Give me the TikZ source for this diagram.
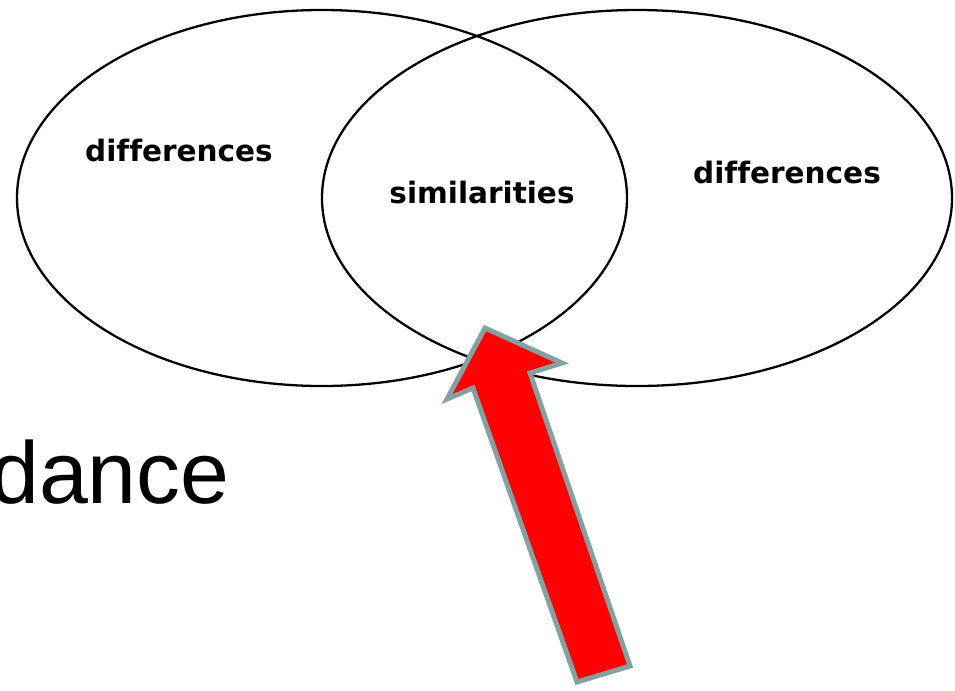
\documentclass[tikz,border=0pt]{standalone}
\usepackage{fontspec}
\newfontfamily\vennfont[Ligatures=CommonOff]{DejaVu Sans}
\newfontfamily\slidefont{Liberation Sans}
\definecolor{arrowred}{RGB}{255,0,0}
\definecolor{arrowgray}{RGB}{133,160,160}
\tikzstyle{venntext}=[font=\vennfont\bfseries\fontsize{16.8pt}{20pt}\selectfont]
\tikzstyle{slidetext}=[font=\slidefont\fontsize{50pt}{58pt}\selectfont]

\begin{document}
\begin{tikzpicture}[x=0.02cm,y=-0.02cm]
		            \useasboundingbox (0,0) rectangle (955,690);

		            % Elipsy
		            \draw[line width=1.3pt] (322,198) ellipse [x radius=305, y radius=188];
		            \draw[line width=1.3pt] (637,198) ellipse [x radius=315, y radius=188];

		            % Popisky
		            \node[venntext] (diffL) at (179,150) {differences};
		            \node[venntext] (simil) at (482,192) {similarities};
		            \node[venntext] (diffR) at (787,172) {differences};

		            % Text snímku
		            \node[slidetext, anchor=base east, inner sep=0pt] (dance) at (230,503) {dance};

		            % Šipka
		            \filldraw[fill=arrowred, draw=arrowgray, line width=2.8pt, line join=miter]
		              (485,328) -- (562,363) -- (530,373) -- (630,666) -- (577,682)
		              -- (473,388) -- (447,399) -- cycle;
		        \end{tikzpicture}
\end{document}
